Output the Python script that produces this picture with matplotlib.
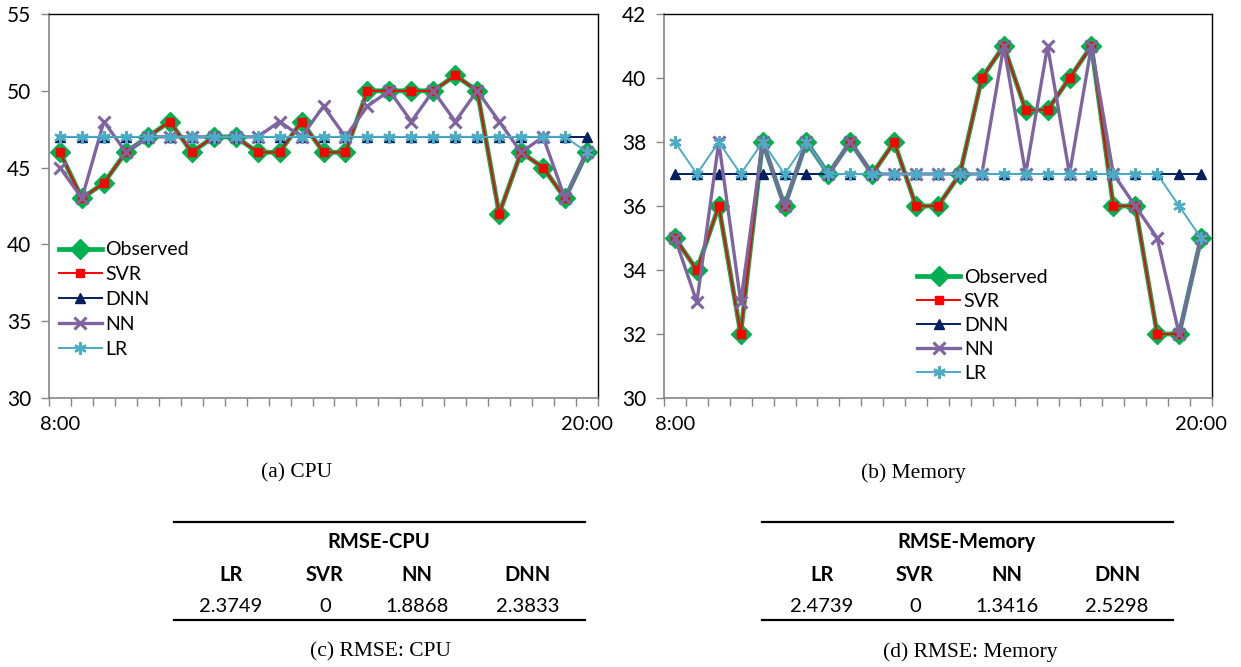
import numpy as np
import matplotlib
matplotlib.use("Agg")
import matplotlib.pyplot as plt
from matplotlib.lines import Line2D

# ---------------- data ----------------
times = ['8:00', '8:30', '9:00', '9:30', '10:00', '10:30', '11:00', '11:30', '12:00',
         '12:30', '13:00', '13:30', '14:00', '14:30', '15:00', '15:30', '16:00',
         '16:30', '17:00', '17:30', '18:00', '18:30', '19:00', '19:30', '20:00']

cpu_observed = [46, 43, 44, 46, 47, 48, 46, 47, 47, 46, 46, 48, 46, 46, 50, 50, 50, 50, 51, 50, 42, 46, 45, 43, 46]
cpu_svr      = [46, 43, 44, 46, 47, 48, 46, 47, 47, 46, 46, 48, 46, 46, 50, 50, 50, 50, 51, 50, 42, 46, 45, 43, 46]
cpu_dnn      = [47] * 25
cpu_nn       = [45, 43, 48, 46, 47, 47, 47, 47, 47, 47, 48, 47, 49, 47, 49, 50, 48, 50, 48, 50, 48, 46, 47, 43, 46]
cpu_lr       = [47, 47, 47, 47, 47, 47, 47, 47, 47, 47, 47, 47, 47, 47, 47, 47, 47, 47, 47, 47, 47, 47, 47, 47, 46]

mem_observed = [35, 34, 36, 32, 38, 36, 38, 37, 38, 37, 38, 36, 36, 37, 40, 41, 39, 39, 40, 41, 36, 36, 32, 32, 35]
mem_svr      = [35, 34, 36, 32, 38, 36, 38, 37, 38, 37, 38, 36, 36, 37, 40, 41, 39, 39, 40, 41, 36, 36, 32, 32, 35]
mem_dnn      = [37] * 25
mem_nn       = [35, 33, 38, 33, 38, 36, 38, 37, 38, 37, 37, 37, 37, 37, 37, 41, 37, 41, 37, 41, 37, 36, 35, 32, 35]
mem_lr       = [38, 37, 38, 37, 38, 37, 38, 37, 37, 37, 37, 37, 37, 37, 37, 37, 37, 37, 37, 37, 37, 37, 37, 36, 35]

models = ['LR', 'SVR', 'NN', 'DNN']
rmse_cpu = ['2.3749', '0', '1.8868', '2.3833']
rmse_mem = ['2.4739', '0', '1.3416', '2.5298']

# ---------------- style ----------------
SANS = 'Lato'
SERIF = 'Liberation Serif'
W, H = 1241, 667
fig = plt.figure(figsize=(W / 100, H / 100), dpi=100)

styles = [
    ('Observed', dict(color='#00B050', lw=3.4, marker='D', ms=10, mec='#00B050', mfc='#00B050')),
    ('SVR', dict(color='#FF0000', lw=1.4, marker='s', ms=5.5, mec='#FF0000', mfc='#FF0000')),
    ('DNN', dict(color='#002060', lw=1.4, marker='^', ms=7.5, mec='#002060', mfc='#002060')),
    ('NN', dict(color='#8064A2', lw=2.4, marker='x', ms=8, mew=2.2)),
    ('LR', dict(color='#4BACC6', lw=1.4, marker=(6, 2, 0), ms=9, mew=1.6)),
]


def px_ax(x0, x1, y_top, y_bot):
    return fig.add_axes([x0 / W, 1 - y_bot / H, (x1 - x0) / W, (y_bot - y_top) / H])


def draw_chart(ax, series, ylim, ystep, leg_anchor, lspace):
    x = np.arange(len(times))
    for (name, st), vals in zip(styles, series):
        ax.plot(x, vals, label=name, clip_on=False, **st)
    ax.set_xlim(-0.5, len(times) - 0.5)
    ax.set_ylim(*ylim)
    ax.set_yticks(np.arange(ylim[0], ylim[1] + 0.1, ystep))
    ax.tick_params(axis='y', length=6, width=1, color='#868686', pad=7,
                   labelsize=15, direction='out')
    for lab in ax.get_yticklabels():
        lab.set_fontfamily(SANS)
    ax.set_xticks(np.arange(-0.5, len(times)), labels=[''] * (len(times) + 1))
    ax.tick_params(axis='x', which='major', length=6, width=1, color='#868686', direction='out')
    ax.set_xticks([0, len(times) - 1], labels=[times[0], times[-1]], minor=True)
    ax.tick_params(axis='x', which='minor', length=0, pad=13, labelsize=14.5)
    for lab in ax.get_xticklabels(minor=True):
        lab.set_fontfamily(SANS)
    for s in ['left', 'bottom']:
        ax.spines[s].set_color('#868686')
        ax.spines[s].set_linewidth(1.2)
    for s in ['top', 'right']:
        ax.spines[s].set_color('black')
        ax.spines[s].set_linewidth(1.0)
    leg = ax.legend(loc='upper left', bbox_to_anchor=leg_anchor, frameon=False,
                    borderpad=0, borderaxespad=0, handlelength=2.2, handletextpad=0.2,
                    labelspacing=lspace, prop={'family': SANS, 'size': 14})
    return leg


ax1 = px_ax(49, 598, 14, 398)
draw_chart(ax1, [cpu_observed, cpu_svr, cpu_dnn, cpu_nn, cpu_lr], (30, 55), 5, (0.018, 0.408), 0.41)

ax2 = px_ax(664, 1212, 14, 398)
draw_chart(ax2, [mem_observed, mem_svr, mem_dnn, mem_nn, mem_lr], (30, 42), 2, (0.462, 0.337), 0.36)


def ftext(xp, yp, s, **kw):
    fig.text(xp / W, 1 - yp / H, s, ha='center', va='center', **kw)


def hline(x0, x1, yp):
    fig.add_artist(Line2D([x0 / W, x1 / W], [1 - yp / H, 1 - yp / H],
                          color='black', lw=1.6, transform=fig.transFigure))


# captions
ftext(297, 473, '(a) CPU', family=SERIF, size=15.5)
ftext(913, 473, '(b) Memory', family=SERIF, size=15.5)
ftext(380, 652, '(c) RMSE: CPU', family=SERIF, size=15.5)
ftext(970, 652, '(d) RMSE: Memory', family=SERIF, size=15.5)


def draw_table(x0, x1, title, cols_x, values):
    hline(x0, x1, 522)
    hline(x0, x1, 620)
    ftext((x0 + x1) / 2 - 1, 542, title, family=SANS, size=14.5, weight='bold')
    for cx, m, v in zip(cols_x, models, values):
        ftext(cx, 575, m, family=SANS, size=14.5, weight='bold')
        ftext(cx, 606, v, family=SANS, size=14.5)


draw_table(174, 585, 'RMSE-CPU', [231, 325, 417, 528], rmse_cpu)
draw_table(762, 1173, 'RMSE-Memory', [822, 915, 1007, 1117], rmse_mem)

fig.savefig('out.png', dpi=100)
